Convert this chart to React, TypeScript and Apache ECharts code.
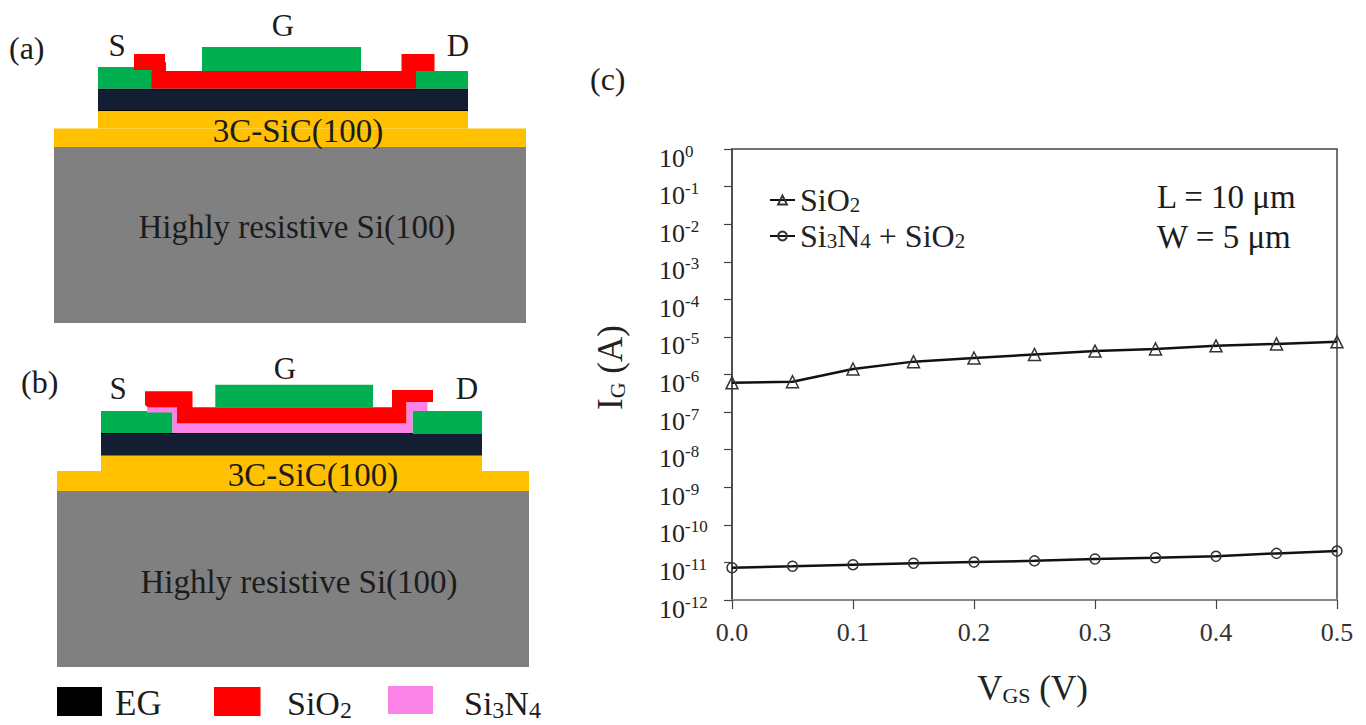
import React, { useEffect, useRef } from "react";
import * as echarts from "echarts";

const vgs = [0, 0.05, 0.1, 0.15, 0.2, 0.25, 0.3, 0.35, 0.4, 0.45, 0.5];
const igSiO2 = [6e-7, 6.4e-7, 1.4e-6, 2.2e-6, 2.75e-6, 3.4e-6, 4.2e-6, 4.8e-6, 5.8e-6, 6.5e-6, 7.4e-6];
const igSi3N4 = [7.2e-12, 7.9e-12, 8.7e-12, 9.5e-12, 1.02e-11, 1.1e-11, 1.23e-11, 1.33e-11, 1.45e-11, 1.74e-11, 2.0e-11];
const seriesNames = ["SiO2", "Si3N4 + SiO2"];
const legendRich: Record<string, string> = {
  "SiO2": "{t|SiO}{s|2}",
  "Si3N4 + SiO2": "{t|Si}{s|3}{t|N}{s|4}{t| + SiO}{s|2}",
};

const SERIF = "Liberation Serif";
const GREEN = "#00b050";
const RED = "#ff0000";
const NAVY = "#131e33";
const GOLD = "#ffc000";
const GREY = "#808080";
const PINK = "#fb82e6";
const INK = "#1c1c1c";

const rect = (x1: number, y1: number, x2: number, y2: number, fill: string) => ({
  type: "rect", silent: true,
  shape: { x: x1, y: y1, width: x2 - x1, height: y2 - y1 },
  style: { fill },
});
const poly = (points: number[][], fill: string) => ({
  type: "polygon", silent: true, shape: { points }, style: { fill },
});
const label = (text: string, x: number, y: number, size: number, align = "center") => ({
  type: "text", silent: true, x, y,
  style: { text, fontSize: size, fontFamily: SERIF, fill: INK, align, verticalAlign: "middle" },
});
const richLabel = (text: string, x: number, y: number, size: number, subSize: number) => ({
  type: "text", silent: true, x, y,
  style: {
    text, fill: INK, align: "left", verticalAlign: "middle",
    rich: {
      t: { fontSize: size, fontFamily: SERIF, fill: INK, height: size + 6 },
      s: { fontSize: subSize, fontFamily: SERIF, fill: INK, verticalAlign: "bottom", height: size + 6, padding: [14, 0, 0, 0] },
    },
  },
});

const panelA = [
  rect(54, 147, 526, 323, GREY),
  rect(54, 128.5, 526, 147, GOLD),
  rect(98, 111, 468, 128.5, GOLD),
  rect(98, 88.5, 468, 111, "#000"),
  rect(98, 89.5, 468, 110, NAVY),
  rect(98, 67, 152, 88.5, GREEN),
  rect(416, 71, 468, 88.5, GREEN),
  rect(151.5, 71, 416, 88.5, RED),
  rect(134, 54, 165, 70, RED),
  rect(152, 62, 166, 72, RED),
  rect(401.5, 54, 434.5, 71, RED),
  rect(202, 47, 361, 71, GREEN),
  label("(a)", 9, 48, 32, "left"),
  label("S", 117, 45, 31),
  label("G", 283, 25, 31),
  label("D", 458, 45, 31),
  label("3C-SiC(100)", 298, 131, 33),
  label("Highly resistive Si(100)", 297, 227, 33),
];

const panelB = [
  rect(57, 491, 529, 667, GREY),
  rect(57, 471, 529, 491, GOLD),
  rect(101, 455.5, 482, 471, GOLD),
  rect(101, 433, 482, 455.5, "#000"),
  rect(101, 434, 482, 455, NAVY),
  rect(101, 411, 172.5, 433, GREEN),
  rect(412.5, 411, 482, 434, GREEN),
  poly([[147, 407.5], [178, 407.5], [178, 423], [407, 423], [407, 402], [427.5, 402], [427.5, 411], [412.5, 411], [412.5, 433], [172.5, 433], [172.5, 412.5], [147, 412.5]], PINK),
  poly([[145, 391.3], [192.5, 391.3], [192.5, 407.3], [392, 407.3], [392, 390], [433, 390], [433, 402], [406.5, 402], [406.5, 423.3], [177, 423.3], [177, 407.5], [148, 407.5], [145, 405]], RED),
  rect(215.3, 384.7, 373, 407.3, GREEN),
  label("(b)", 21, 382, 32, "left"),
  label("S", 118, 388, 31),
  label("G", 285, 368, 31),
  label("D", 467, 388, 31),
  label("3C-SiC(100)", 313, 475, 33),
  label("Highly resistive Si(100)", 299, 582, 33),
];

const keyItems = [
  rect(57, 687, 102, 716, "#000"),
  rect(214, 687, 260.5, 716, RED),
  rect(388, 686, 433, 714, PINK),
  label("EG", 115, 703, 35, "left"),
  richLabel("{t|SiO}{s|2}", 287, 703, 34, 24),
  richLabel("{t|Si}{s|3}{t|N}{s|4}", 464, 703, 34, 24),
];

const annotations = [
  label("(c)", 590, 79, 32, "left"),
  label("L = 10 μm", 1157, 197, 33, "left"),
  label("W = 5 μm", 1157, 237, 33, "left"),
];

const axisSub = {
  t: { fontSize: 35, fontFamily: SERIF, color: "#222" },
  s: { fontSize: 22, fontFamily: SERIF, color: "#222", verticalAlign: "bottom", padding: [14, 0, 0, 0] },
};

export default function App() {
  const ref = useRef<HTMLDivElement>(null);
  useEffect(() => {
    const chart = echarts.init(ref.current!, null, { renderer: "svg" });
    chart.setOption({
      animation: false,
      backgroundColor: "#fff",
      textStyle: { fontFamily: SERIF },
      grid: {
        left: 732, top: 149, width: 605, height: 451,
        show: true, borderColor: "#444", borderWidth: 1.5, backgroundColor: "transparent",
      },
      legend: {
        orient: "vertical", left: 764, top: 179, itemGap: 4, itemWidth: 25, itemHeight: 11,
        data: seriesNames,
        formatter: (n: string) => legendRich[n],
        textStyle: {
          rich: {
            t: { fontSize: 32, fontFamily: SERIF, color: "#222", height: 36 },
            s: { fontSize: 21, fontFamily: SERIF, color: "#222", verticalAlign: "bottom", height: 36, padding: [10, 0, 0, 0] },
          },
        },
      },
      xAxis: {
        type: "value", min: 0, max: 0.5, interval: 0.1,
        name: "{t|V}{s|GS}{t| (V)}", nameLocation: "middle", nameGap: 70,
        nameTextStyle: { rich: axisSub, padding: [0, 4, 0, 0] },
        axisLine: { lineStyle: { color: "#888", width: 2 } },
        axisTick: { length: 9, lineStyle: { color: "#444", width: 1.2 } },
        axisLabel: { fontSize: 26, fontFamily: SERIF, color: "#333", margin: 19, formatter: (v: number) => v.toFixed(1) },
        splitLine: { show: false },
      },
      yAxis: {
        type: "log", logBase: 10, min: 1e-12, max: 1, interval: 1,
        name: "{t|I}{s|G}{t| (A)}", nameLocation: "middle", nameGap: 104, nameRotate: 90,
        nameTextStyle: { rich: axisSub, padding: [0, 0, 0, 14] },
        axisLine: { show: true, onZero: false, lineStyle: { color: "#444", width: 1.5 } },
        axisTick: { length: 8, lineStyle: { color: "#444", width: 1.2 } },
        splitLine: { show: false },
        minorTick: { show: false },
        axisLabel: {
          showMinLabel: true, showMaxLabel: true, align: "left", margin: 73,
          formatter: (v: number) => `{b|10}{e|${Math.round(Math.log10(v))}}`,
          rich: {
            b: { fontSize: 26, fontFamily: SERIF, color: "#222", padding: [18, 0, 0, 0] },
            e: { fontSize: 17, fontFamily: SERIF, color: "#222", padding: [4, 0, 0, 0] },
          },
        },
      },
      series: [
        {
          name: seriesNames[0], type: "line", data: vgs.map((x, i) => [x, igSiO2[i]]),
          symbol: "triangle", symbolSize: 12, showAllSymbol: true,
          lineStyle: { color: "#111", width: 2.5 },
          itemStyle: { color: "rgba(255,255,255,0)", borderColor: "#333", borderWidth: 1.5 },
        },
        {
          name: seriesNames[1], type: "line", data: vgs.map((x, i) => [x, igSi3N4[i]]),
          symbol: "circle", symbolSize: 10, showAllSymbol: true,
          lineStyle: { color: "#111", width: 2.5 },
          itemStyle: { color: "rgba(255,255,255,0)", borderColor: "#333", borderWidth: 1.5 },
        },
      ],
      graphic: { elements: [...panelA, ...panelB, ...keyItems, ...annotations] },
    });
    return () => chart.dispose();
  }, []);
  return <div ref={ref} style={{ position: "absolute", left: 0, top: 0, width: 1366, height: 725 }} />;
}
